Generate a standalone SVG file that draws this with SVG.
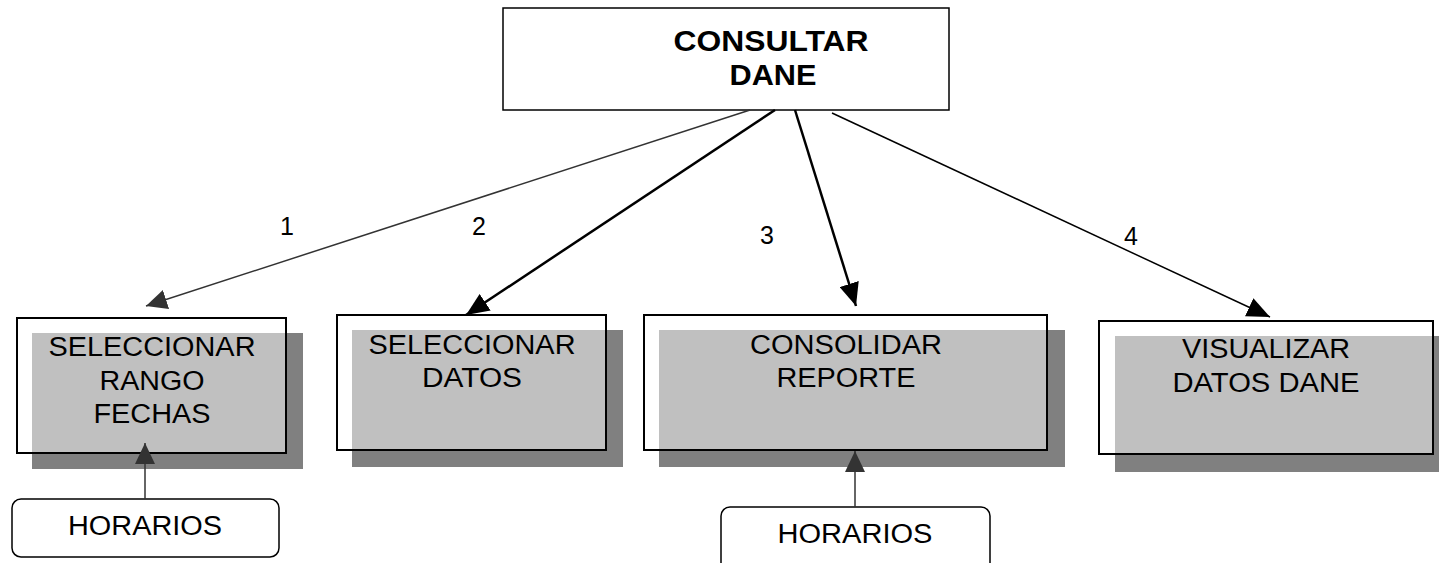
<svg xmlns="http://www.w3.org/2000/svg" width="1439" height="563" viewBox="0 0 1439 563">
<style>
  .box{fill:#ffffff;stroke:none}
  .outline{fill:none;stroke:#000;stroke-width:2}
  .shadow{fill:#808080}
  .inner{fill:#c0c0c0}
  .t{font-family:"Liberation Sans",Arial,sans-serif;font-size:27px;fill:#000;text-anchor:middle}
  .title{font-family:"Liberation Sans",Arial,sans-serif;font-size:29px;font-weight:bold;fill:#000;text-anchor:middle}
  .lbl{font-family:"Liberation Sans",Arial,sans-serif;font-size:25px;fill:#000;text-anchor:middle}
  .rr{fill:#fff;stroke:#000;stroke-width:1.5}
  .c1{stroke:#333;stroke-width:1.5;fill:none}
  .cb{stroke:#000;fill:none}
</style>
<defs>
  <marker id="ah" markerWidth="23" markerHeight="20" refX="23" refY="10" orient="auto" markerUnits="userSpaceOnUse" viewBox="0 0 23 20">
    <path d="M0,0 L23,10 L0,20 z" fill="#000"/>
  </marker>
  <marker id="ahg" markerWidth="21" markerHeight="20" refX="21" refY="10" orient="auto" markerUnits="userSpaceOnUse" viewBox="0 0 21 20">
    <path d="M0,0 L21,10 L0,20 z" fill="#333"/>
  </marker>
</defs>
<rect width="1439" height="563" fill="#fff"/>

<g id="consultar-dane">
  <rect x="503" y="8" width="446" height="102" fill="#fff" stroke="#000" stroke-width="1.5"/>
  <text class="title" x="771" y="51" textLength="195" lengthAdjust="spacingAndGlyphs">CONSULTAR</text>
  <text class="title" x="773" y="85" textLength="87" lengthAdjust="spacingAndGlyphs">DANE</text>
</g>

<g id="seleccionar-rango">
  <rect class="shadow" x="32" y="333" width="271" height="136"/>
  <rect class="box" x="17" y="318" width="269" height="135"/>
  <rect class="inner" x="32" y="333" width="254" height="120"/>
  <rect class="outline" x="17" y="318" width="269" height="135"/>
  <text class="t" x="152" y="356" textLength="207" lengthAdjust="spacingAndGlyphs">SELECCIONAR</text>
  <text class="t" x="152" y="390" textLength="105" lengthAdjust="spacingAndGlyphs">RANGO</text>
  <text class="t" x="152" y="423" textLength="117" lengthAdjust="spacingAndGlyphs">FECHAS</text>
</g>

<g id="seleccionar-datos">
  <rect class="shadow" x="352" y="330" width="271" height="137"/>
  <rect class="box" x="337" y="315" width="269" height="135"/>
  <rect class="inner" x="352" y="330" width="254" height="120"/>
  <rect class="outline" x="337" y="315" width="269" height="135"/>
  <text class="t" x="472" y="354" textLength="207" lengthAdjust="spacingAndGlyphs">SELECCIONAR</text>
  <text class="t" x="472" y="387" textLength="100" lengthAdjust="spacingAndGlyphs">DATOS</text>
</g>

<g id="consolidar-reporte">
  <rect class="shadow" x="659" y="330" width="406" height="137"/>
  <rect class="box" x="644" y="315" width="403" height="135"/>
  <rect class="inner" x="659" y="330" width="388" height="120"/>
  <rect class="outline" x="644" y="315" width="403" height="135"/>
  <text class="t" x="846" y="354" textLength="192" lengthAdjust="spacingAndGlyphs">CONSOLIDAR</text>
  <text class="t" x="846" y="387" textLength="139" lengthAdjust="spacingAndGlyphs">REPORTE</text>
</g>

<g id="visualizar-datos">
  <rect class="shadow" x="1115" y="336" width="330" height="136"/>
  <rect class="box" x="1099" y="321" width="334" height="133"/>
  <rect class="inner" x="1115" y="336" width="318" height="118"/>
  <rect class="outline" x="1099" y="321" width="334" height="133"/>
  <text class="t" x="1266" y="358" textLength="168" lengthAdjust="spacingAndGlyphs">VISUALIZAR</text>
  <text class="t" x="1266" y="392" textLength="187" lengthAdjust="spacingAndGlyphs">DATOS DANE</text>
</g>

<g id="horarios-1">
  <rect class="rr" x="12" y="499" width="267" height="58" rx="9"/>
  <text class="t" x="145" y="535" textLength="154" lengthAdjust="spacingAndGlyphs">HORARIOS</text>
</g>

<g id="horarios-2">
  <rect class="rr" x="721" y="507" width="269" height="70" rx="9"/>
  <text class="t" x="855" y="543" textLength="155" lengthAdjust="spacingAndGlyphs">HORARIOS</text>
</g>

<g id="connectors">
  <line class="c1" x1="750" y1="110" x2="146" y2="306" marker-end="url(#ahg)"/>
  <line class="cb" stroke-width="2.5" x1="775" y1="110" x2="466" y2="315" marker-end="url(#ah)"/>
  <line class="cb" stroke-width="2.5" x1="795" y1="110" x2="856" y2="306" marker-end="url(#ah)"/>
  <line class="cb" stroke-width="1.5" x1="832" y1="113" x2="1270" y2="317" marker-end="url(#ah)"/>
  <line class="c1" x1="145" y1="499" x2="145" y2="443" marker-end="url(#ahg)"/>
  <line class="c1" x1="855" y1="507" x2="855" y2="451" marker-end="url(#ahg)"/>
  <text class="lbl" x="287" y="235">1</text>
  <text class="lbl" x="479" y="235">2</text>
  <text class="lbl" x="767" y="244">3</text>
  <text class="lbl" x="1131" y="245">4</text>
</g>
</svg>
